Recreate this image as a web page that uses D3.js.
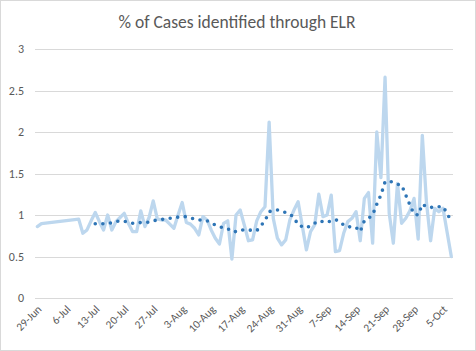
<!DOCTYPE html>
<html>
<head>
<meta charset="utf-8">
<script src="https://cdn.jsdelivr.net/npm/d3@7"></script>
<style>
  html,body{margin:0;padding:0;background:#fff;}
  svg{display:block;}
</style>
</head>
<body>
<div id="chart"></div>
<script>
// % of cases identified through ELR -- daily values + 7-day moving average

const TITLE="% of Cases identified through ELR";

// daily series (2020). early days are sparse, the line just spans the gap
const dailyDates=["2020-06-29","2020-06-30",
  "2020-07-09","2020-07-10","2020-07-11","2020-07-12","2020-07-13","2020-07-14","2020-07-15","2020-07-16",
  "2020-07-17","2020-07-18","2020-07-19","2020-07-20","2020-07-21","2020-07-22","2020-07-23","2020-07-24",
  "2020-07-25","2020-07-26","2020-07-27","2020-07-28","2020-07-29","2020-07-30","2020-07-31","2020-08-01",
  "2020-08-02","2020-08-03","2020-08-04","2020-08-05","2020-08-06","2020-08-07","2020-08-08","2020-08-09",
  "2020-08-10","2020-08-11","2020-08-12","2020-08-13","2020-08-14","2020-08-15","2020-08-16","2020-08-17",
  "2020-08-18","2020-08-19","2020-08-20","2020-08-21","2020-08-22","2020-08-23","2020-08-24","2020-08-25",
  "2020-08-26","2020-08-27","2020-08-28","2020-08-29","2020-08-30","2020-08-31","2020-09-01","2020-09-02",
  "2020-09-03","2020-09-04","2020-09-05","2020-09-06","2020-09-07","2020-09-08","2020-09-09","2020-09-10",
  "2020-09-11","2020-09-12","2020-09-13","2020-09-14","2020-09-15","2020-09-16","2020-09-17","2020-09-18",
  "2020-09-19","2020-09-20","2020-09-21","2020-09-22","2020-09-23","2020-09-24","2020-09-25","2020-09-26",
  "2020-09-27","2020-09-28","2020-09-29","2020-09-30","2020-10-01","2020-10-02","2020-10-03","2020-10-04",
  "2020-10-05","2020-10-06","2020-10-07"];
const dailyPct=[0.86,0.895,
  0.95,0.78,0.82,0.93,1.03,0.92,0.82,1.00,
  0.82,0.92,0.97,1.02,0.90,0.80,0.80,1.05,
  0.86,0.97,1.17,0.95,0.94,0.94,0.89,0.84,
  1.00,1.15,0.91,0.89,0.84,0.76,0.98,0.94,
  0.82,0.72,0.65,0.90,0.93,0.47,1.00,1.06,
  0.88,0.69,0.70,0.93,1.04,1.10,2.12,0.96,
  0.72,0.64,0.70,0.94,1.06,1.16,0.87,0.58,
  0.80,0.88,1.25,0.98,1.00,1.24,0.56,0.57,
  0.78,0.92,0.96,1.04,0.69,1.20,1.27,0.66,
  2.00,1.45,2.66,1.02,0.66,1.38,0.90,0.96,
  1.05,1.20,0.71,1.96,1.15,0.69,1.08,1.04,
  1.08,0.79,0.50];

// 7-day moving average, 13-Jul to 7-Oct
const avgStart="2020-07-13";
const avgPct=[0.895,0.895,0.895,0.90,0.905,0.92,0.93,
  0.925,0.915,0.90,0.90,0.91,0.91,0.915,
  0.93,0.94,0.945,0.955,0.96,0.965,0.975,
  0.98,0.98,0.965,0.95,0.94,0.94,0.93,
  0.905,0.88,0.86,0.845,0.835,0.80,0.80,
  0.82,0.82,0.82,0.815,0.81,0.87,0.93,
  1.04,1.055,1.06,1.045,1.03,1.01,0.97,
  0.88,0.86,0.845,0.87,0.90,0.93,0.92,
  0.91,0.93,0.945,0.92,0.88,0.855,0.86,
  0.85,0.80,0.93,0.96,1.00,1.13,1.24,
  1.40,1.41,1.39,1.37,1.36,1.24,1.12,
  1.01,1.00,1.13,1.10,1.09,1.10,1.10,
  1.10,1.02,0.92];

const yTicks=[0,0.5,1,1.5,2,2.5,3];
const xTickDates=["2020-06-29","2020-07-06","2020-07-13","2020-07-20","2020-07-27","2020-08-03","2020-08-10",
  "2020-08-17","2020-08-24","2020-08-31","2020-09-07","2020-09-14","2020-09-21","2020-09-28","2020-10-05"];

const W=476,H=351;
const parse=d3.utcParse("%Y-%m-%d");
const fmt=d3.utcFormat("%-d-%b");

const svg=d3.select("#chart").append("svg").attr("width",W).attr("height",H);
svg.append("rect").attr("x",0.5).attr("y",0.5).attr("width",W-1).attr("height",H-1)
  .attr("fill","#fff").attr("stroke","#d9d9d9");

const x=d3.scaleUtc().domain([parse("2020-06-29"),parse("2020-10-07")]).range([37.3,451.3]);
const y=d3.scaleLinear().domain([0,3]).range([298,49]);
const plotL=35, plotR=453;

const font="Calibri, Carlito, Lato, 'Open Sans', sans-serif";

svg.append("text").attr("x",237).attr("y",28)
  .attr("text-anchor","middle").attr("fill","#595959")
  .style("font-family",font).style("font-size","17.5px")
  .text(TITLE);

// gridlines
svg.append("g").selectAll("line").data(yTicks).join("line")
  .attr("x1",plotL).attr("x2",plotR)
  .attr("y1",d=>Math.round(y(d))+0.5).attr("y2",d=>Math.round(y(d))+0.5)
  .attr("stroke","#d9d9d9").attr("stroke-width",1);

// y labels
svg.append("g").selectAll("text").data(yTicks).join("text")
  .attr("x",24).attr("y",d=>y(d)+4)
  .attr("text-anchor","end").attr("fill","#595959")
  .style("font-family",font).style("font-size","12px")
  .text(d=>d);

// x labels, rotated
svg.append("g").selectAll("text").data(xTickDates).join("text")
  .attr("transform",d=>`translate(${x(parse(d))+5},${310}) rotate(-45)`)
  .attr("text-anchor","end").attr("fill","#595959")
  .style("font-family",font).style("font-size","11.3px")
  .text(d=>fmt(parse(d)));

// daily line
const daily=dailyDates.map((d,i)=>({date:parse(d),v:dailyPct[i]}));
svg.append("path").datum(daily)
  .attr("fill","none").attr("stroke","#bdd7ee").attr("stroke-width",3.3)
  .attr("stroke-linejoin","round").attr("stroke-linecap","round")
  .attr("d",d3.line().x(d=>x(d.date)).y(d=>y(d.v)));

// moving average, round dots
const a0=parse(avgStart);
const avg=avgPct.map((v,i)=>({date:d3.utcDay.offset(a0,i),v}));
svg.append("path").datum(avg)
  .attr("fill","none").attr("stroke","#2e75b6").attr("stroke-width",3.6)
  .attr("stroke-linecap","round").attr("stroke-dasharray","0,7.6")
  .attr("d",d3.line().x(d=>x(d.date)).y(d=>y(d.v)));
</script>
</body>
</html>
